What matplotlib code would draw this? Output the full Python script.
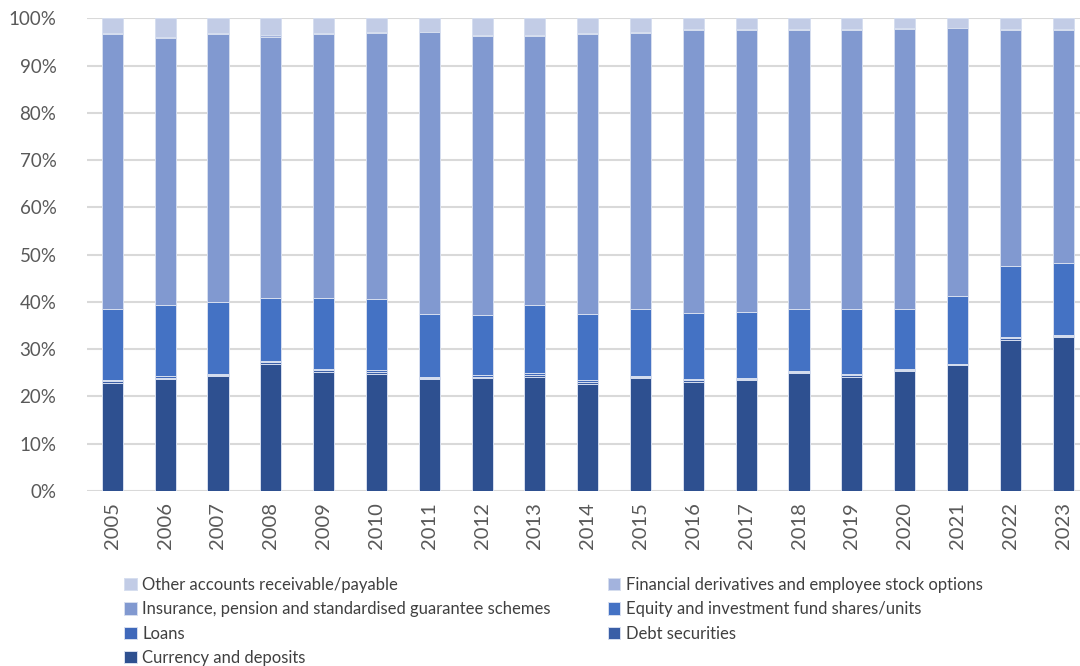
import matplotlib
matplotlib.use("Agg")
import matplotlib.pyplot as plt
import numpy as np

years = [str(y) for y in range(2005, 2024)]

# Shares in percent, bottom to top
currency = [22.8, 23.6, 24.4, 26.8, 25.1, 24.7, 23.6, 23.8, 24.2, 22.7,
            23.8, 23.1, 23.4, 24.9, 24.2, 25.3, 26.6, 32.0, 32.5]
debt = [0.4, 0.4, 0.2, 0.4, 0.4, 0.4, 0.3, 0.4, 0.4, 0.4,
        0.3, 0.3, 0.2, 0.3, 0.3, 0.3, 0.1, 0.3, 0.3]
loans = [0.3, 0.3, 0.2, 0.4, 0.3, 0.4, 0.2, 0.4, 0.4, 0.4,
         0.3, 0.3, 0.2, 0.2, 0.2, 0.2, 0.1, 0.3, 0.2]
equity_top = [38.4, 39.3, 40.0, 40.8, 40.8, 40.6, 37.4, 37.2, 39.3, 37.5,
              38.6, 37.6, 37.8, 38.6, 38.4, 38.6, 41.2, 47.6, 48.3]
insurance_top = [96.7, 95.9, 96.7, 96.1, 96.6, 96.8, 97.1, 96.3, 96.3, 96.7,
                 96.8, 97.6, 97.6, 97.6, 97.6, 97.8, 97.9, 97.6, 97.6]
derivatives = [0.1, 0.1, 0.1, 0.3, 0.2, 0.2, 0.1, 0.1, 0.1, 0.1,
               0.3, 0.1, 0.1, 0.1, 0.2, 0.1, 0.1, 0.1, 0.1]

currency = np.array(currency)
debt = np.array(debt)
loans = np.array(loans)
equity = np.array(equity_top) - currency - debt - loans
insurance = np.array(insurance_top) - np.array(equity_top)
derivatives = np.array(derivatives)
other = 100 - np.array(insurance_top) - derivatives

series = [
    ("Currency and deposits", currency, "#2E5090"),
    ("Debt securities", debt, "#3A5EA6"),
    ("Loans", loans, "#3F68BA"),
    ("Equity and investment fund shares/units", equity, "#4472C4"),
    ("Insurance, pension and standardised guarantee schemes", insurance, "#8199D0"),
    ("Financial derivatives and employee stock options", derivatives, "#A3B3DD"),
    ("Other accounts receivable/payable", other, "#C2CCE6"),
]

plt.rcParams['font.family'] = ['Lato', 'DejaVu Sans']
fig = plt.figure(figsize=(10.8, 6.66), dpi=100)
ax = fig.add_axes([87/1080, 1-491/666, 1-87/1080, (491-18.3)/666])

x = np.arange(len(years))
bottom = np.zeros(len(years))
handles = {}
for name, vals, col in series:
    b = ax.bar(x, vals / 100.0, bottom=bottom / 100.0, width=0.4, color=col,
               edgecolor="#D6DEEF", linewidth=0.7, label=name, zorder=3)
    handles[name] = b
    bottom = bottom + vals

ax.set_ylim(0, 1)
ax.set_xlim(-0.48, len(years) - 1 + 0.32)
ax.set_yticks(np.arange(0, 1.01, 0.1))
ax.set_yticklabels([f"{int(round(v*100))}%" for v in np.arange(0, 1.01, 0.1)])
ax.set_xticks(x)
ax.set_xticklabels(years, rotation=90)
ax.tick_params(axis='both', length=0, colors="#595959", labelsize=13.5)
ax.tick_params(axis='x', labelsize=14.5, pad=8)
ax.tick_params(axis='y', pad=22)
ax.grid(axis='y', color="#D9D9D9", linewidth=1.5, zorder=0)
for s in ax.spines.values():
    s.set_visible(False)

order = ["Other accounts receivable/payable",
         "Insurance, pension and standardised guarantee schemes",
         "Loans",
         "Currency and deposits",
         "Financial derivatives and employee stock options",
         "Equity and investment fund shares/units",
         "Debt securities"]
leg = fig.legend([handles[n] for n in order], order, ncol=2,
                 loc="upper left", bbox_to_anchor=(124/1080, 1-577/666),
                 frameon=False, fontsize=12, handlelength=0.75, handleheight=0.75,
                 handletextpad=0.35, columnspacing=3.4, labelspacing=0.5,
                 borderaxespad=0, borderpad=0)
for t in leg.get_texts():
    t.set_color("#404040")

fig.savefig("out.png", dpi=100)
